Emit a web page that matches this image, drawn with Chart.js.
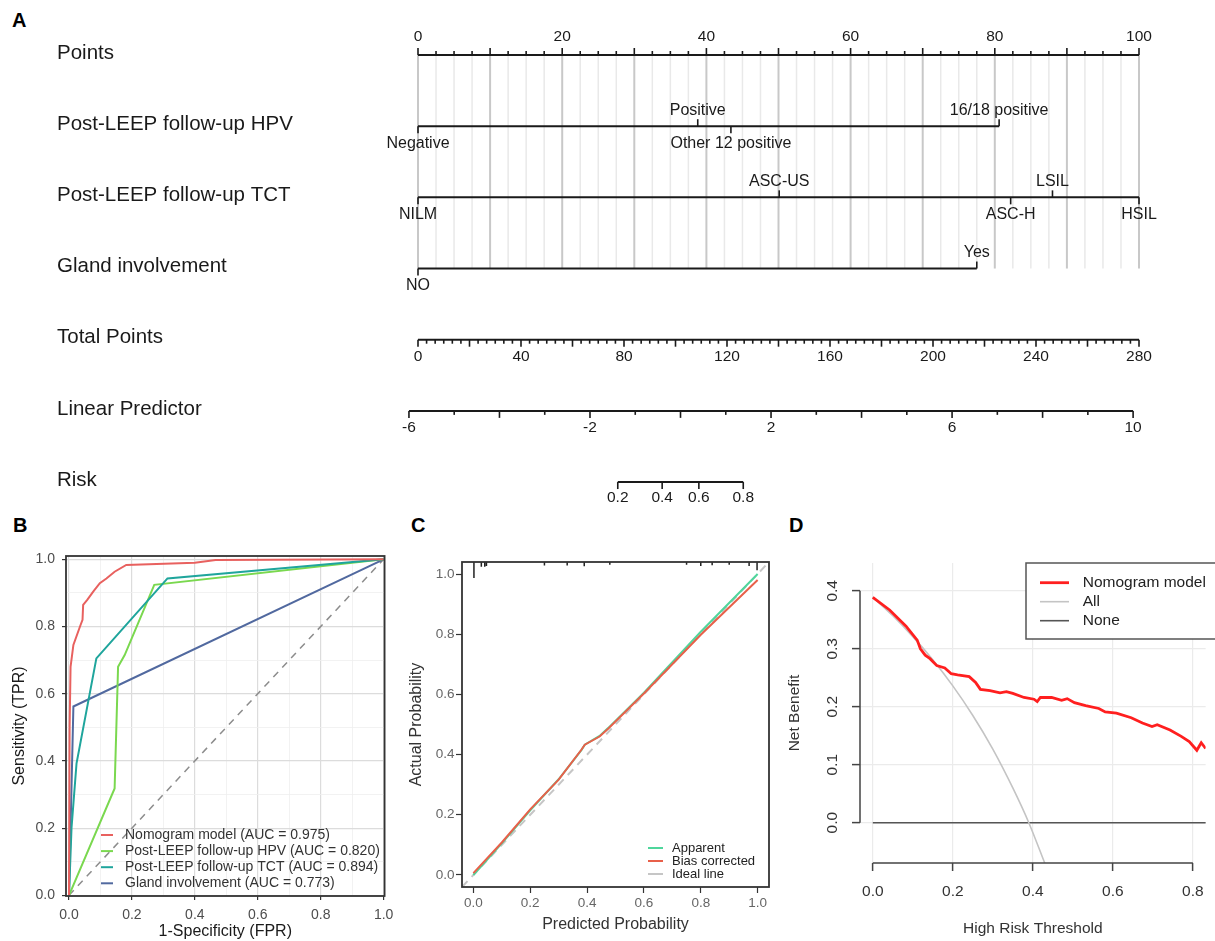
<!DOCTYPE html>
<html>
<head>
<meta charset="utf-8">
<title>Nomogram, ROC, calibration and decision curve</title>
<script src="https://cdn.jsdelivr.net/npm/chart.js@4.4.1/dist/chart.umd.min.js"></script>
<style>
  html, body { margin: 0; padding: 0; background: #fff; width: 1215px; height: 941px; overflow: hidden; position: relative; }
  canvas { position: absolute; }
  .tag { position: absolute; font: bold 20px "Liberation Sans", Arial, sans-serif; line-height: 20px; color: #000; }
</style>
</head>
<body>
<div class="tag" style="left:12px;top:10px">A</div>
<div class="tag" style="left:13px;top:515px">B</div>
<div class="tag" style="left:411px;top:515px">C</div>
<div class="tag" style="left:789px;top:515px">D</div>
<canvas id="nomogram" width="1215" height="515" style="left:0;top:0"></canvas>
<canvas id="roc" width="400" height="421" style="left:0;top:520px"></canvas>
<canvas id="calib" width="390" height="421" style="left:400px;top:520px"></canvas>
<canvas id="dca" width="445" height="421" style="left:770px;top:520px"></canvas>
<script>
const FONT = '"Liberation Sans", Arial, sans-serif';
Chart.defaults.font.family = FONT;
Chart.defaults.color = '#222';
Chart.defaults.animation = false;
Chart.defaults.responsive = false;

// ---- A: nomogram ----
const rowNames = ['Points', 'Post-LEEP follow-up HPV', 'Post-LEEP follow-up TCT', 'Gland involvement', 'Total Points', 'Linear Predictor', 'Risk'];
const pointsLabels = [0, 20, 40, 60, 80, 100];
const hpvLevels = ['Negative', 'Positive', 'Other 12 positive', '16/18 positive'];
const hpvPoints = [0, 38.8, 43.4, 80.6];
const tctLevels = ['NILM', 'ASC-US', 'ASC-H', 'LSIL', 'HSIL'];
const tctPoints = [0, 50.1, 82.2, 88.0, 100];
const glandLevels = ['NO', 'Yes'];
const glandPoints = [0, 77.5];
const totalLabels = [0, 40, 80, 120, 160, 200, 240, 280];
const lpLabels = [-6, -2, 2, 6, 10];
const lpAtTotal = [-5.8, 10.13]; // linear predictor at 0 and 280 total points
const riskLabels = [0.2, 0.4, 0.6, 0.8];
// side of the line where each level name goes (1 below, -1 above)
const hpvSide = [1, -1, 1, -1];
const tctSide = [1, -1, 1, -1, 1];
const glandSide = [1, -1];

// ---- B: ROC ----
const rocLabels = ['Nomogram model (AUC = 0.975)', 'Post-LEEP follow-up HPV (AUC = 0.820)', 'Post-LEEP follow-up TCT (AUC = 0.894)', 'Gland involvement (AUC = 0.773)'];
const nomoFpr = [0, 0.002, 0.005, 0.014, 0.035, 0.043, 0.045, 0.058, 0.077, 0.098, 0.119, 0.145, 0.182, 0.40, 0.466, 1];
const nomoTpr = [0, 0.50, 0.68, 0.745, 0.80, 0.82, 0.864, 0.879, 0.904, 0.929, 0.943, 0.963, 0.983, 0.99, 0.998, 1];
const hpvFpr = [0, 0.145, 0.156, 0.177, 0.271, 1];
const hpvTpr = [0, 0.318, 0.68, 0.715, 0.924, 1];
const tctFpr = [0, 0.008, 0.024, 0.087, 0.313, 1];
const tctTpr = [0, 0.20, 0.393, 0.705, 0.943, 1];
const glandFpr = [0, 0.014, 1];
const glandTpr = [0, 0.562, 1];
const diagX = [0, 1];
const diagY = [0, 1];
const rocTicks = [0, 0.1, 0.2, 0.3, 0.4, 0.5, 0.6, 0.7, 0.8, 0.9, 1.0];

// ---- C: calibration ----
const calLabels = ['Apparent', 'Bias corrected', 'Ideal line'];
const calPred = [0, 0.1, 0.2, 0.3, 0.38, 0.392, 0.444, 0.474, 0.6, 0.8, 1.0];
const apparentObs = [0, 0.105, 0.215, 0.318, 0.415, 0.433, 0.462, 0.488, 0.606, 0.808, 1.0];
const biasObs = [0.006, 0.108, 0.218, 0.317, 0.416, 0.433, 0.46, 0.486, 0.603, 0.798, 0.98];
const idealX = [-0.04, 1.04];
const idealY = [-0.04, 1.04];
const rugX = [0.002, 0.028, 0.04, 0.046, 0.25, 0.33, 0.39, 0.48, 0.75, 0.80, 0.84, 0.90, 0.97, 0.998];
const rugH = [0.053, 0.016, 0.016, 0.013, 0.012, 0.012, 0.014, 0.009, 0.009, 0.013, 0.011, 0.009, 0.013, 0.027];
const calTicks = [0, 0.2, 0.4, 0.6, 0.8, 1.0];

// ---- D: decision curve ----
const dcaLabels = ['Nomogram model', 'All', 'None'];
const dcaX = [0, 0.042, 0.083, 0.111, 0.119, 0.131, 0.143, 0.16, 0.18, 0.196, 0.212, 0.241, 0.257, 0.269, 0.293, 0.318, 0.334, 0.35, 0.378, 0.403, 0.411, 0.419, 0.447, 0.472, 0.486, 0.504, 0.532, 0.565, 0.581, 0.609, 0.646, 0.674, 0.698, 0.711, 0.743, 0.771, 0.791, 0.81, 0.821, 0.832];
const dcaY = [0.3885, 0.367, 0.339, 0.315, 0.30, 0.289, 0.283, 0.271, 0.267, 0.257, 0.255, 0.252, 0.242, 0.230, 0.228, 0.224, 0.226, 0.223, 0.216, 0.213, 0.209, 0.216, 0.216, 0.211, 0.214, 0.207, 0.202, 0.197, 0.191, 0.189, 0.181, 0.172, 0.166, 0.169, 0.160, 0.149, 0.140, 0.125, 0.138, 0.128];
const allX = [0, 0.05, 0.1, 0.15, 0.2, 0.25, 0.3, 0.35, 0.39, 0.43];
const allY = [0.389, 0.357, 0.321, 0.281, 0.236, 0.185, 0.127, 0.060, 0.0, -0.07];
const noneX = [0, 1];
const noneY = [0, 0];
const dcaXTicks = [0, 0.2, 0.4, 0.6, 0.8];
const dcaYTicks = [0, 0.1, 0.2, 0.3, 0.4];

// helpers
const xy = (xs, ys) => xs.map((x, i) => ({x, y: ys[i]}));
const series = (xs, ys, style) => Object.assign({data: xy(xs, ys), showLine: true, pointRadius: 0, borderWidth: 2, fill: false}, style);
const fixTicks = list => scale => { scale.ticks = list.map(value => ({value})); };
const logit = p => Math.log(p / (1 - p));
const isMajor = v => Math.round(v * 10) % 2 === 0;

const makeFrame = (color, width) => ({
  id: 'frame',
  afterDatasetsDraw(chart) {
    const {ctx, chartArea: a} = chart;
    ctx.save();
    ctx.strokeStyle = color;
    ctx.lineWidth = width;
    ctx.strokeRect(a.left, a.top, a.right - a.left, a.bottom - a.top);
    ctx.restore();
  }
});

// legend drawn from the labelled datasets
const makeLegend = o => ({
  id: 'lineLegend',
  afterDraw(chart) {
    const {ctx} = chart;
    ctx.save();
    if (o.box) {
      ctx.fillStyle = '#fff';
      ctx.fillRect(o.box.x, o.box.y, o.box.w, o.box.h);
      ctx.strokeStyle = o.box.color;
      ctx.lineWidth = o.box.width;
      ctx.strokeRect(o.box.x, o.box.y, o.box.w, o.box.h);
    }
    ctx.font = o.font;
    ctx.textAlign = 'left';
    ctx.textBaseline = 'middle';
    chart.data.datasets.filter(d => d.label).forEach((d, i) => {
      const yy = o.y + i * o.rowH;
      ctx.strokeStyle = d.borderColor;
      ctx.lineWidth = d.borderWidth;
      ctx.beginPath();
      ctx.moveTo(o.x, yy);
      ctx.lineTo(o.x + o.lineLen, yy);
      ctx.stroke();
      ctx.fillStyle = o.color;
      ctx.fillText(d.label, o.textX, yy);
    });
    ctx.restore();
  }
});

// ---------- A ----------
const predictorRows = [
  {levels: hpvLevels, pts: hpvPoints, side: hpvSide},
  {levels: tctLevels, pts: tctPoints, side: tctSide},
  {levels: glandLevels, pts: glandPoints, side: glandSide}
];

const nomogramMarks = {
  id: 'nomogramMarks',
  beforeDatasetsDraw(chart) {
    const {ctx} = chart;
    const {pts, y} = chart.scales;
    const y0 = y.getPixelForValue(0), y1 = y.getPixelForValue(3);
    ctx.save();
    for (let i = 0; i <= 40; i++) {
      const x = pts.getPixelForValue(i * 2.5);
      ctx.strokeStyle = i % 4 === 0 ? '#c8c8c8' : '#e9e9e9';
      ctx.lineWidth = i % 4 === 0 ? 2 : 1.5;
      ctx.beginPath();
      ctx.moveTo(x, y0);
      ctx.lineTo(x, y1);
      ctx.stroke();
    }
    ctx.restore();
  },
  afterDatasetsDraw(chart) {
    const {ctx} = chart;
    const {pts, tot, lp, y} = chart.scales;
    ctx.save();
    ctx.strokeStyle = '#1a1a1a';
    ctx.lineWidth = 1.6;
    ctx.fillStyle = '#1a1a1a';
    ctx.textAlign = 'center';
    ctx.textBaseline = 'middle';
    const tick = (x, row, len) => {
      const yy = y.getPixelForValue(row);
      ctx.beginPath();
      ctx.moveTo(x, yy);
      ctx.lineTo(x, yy + len);
      ctx.stroke();
    };
    const label = (txt, x, row, dy) => ctx.fillText(txt, x, y.getPixelForValue(row) + dy);

    ctx.font = '15.5px ' + FONT;
    // points scale
    for (let i = 0; i <= 40; i++) tick(pts.getPixelForValue(i * 2.5), 0, i % 4 === 0 ? -7 : -4);
    pointsLabels.forEach(v => label(String(v), pts.getPixelForValue(v), 0, -18));
    // total points
    for (let i = 0; i <= 84; i++) tick(tot.getPixelForValue(i * 20 / 6), 4, i % 6 === 0 ? 7 : 4);
    totalLabels.forEach(v => label(String(v), tot.getPixelForValue(v), 4, 17));
    // linear predictor
    for (let v = -6; v <= 10; v++) tick(lp.getPixelForValue(v), 5, v % 2 === 0 ? 7 : 4);
    lpLabels.forEach(v => label(String(v), lp.getPixelForValue(v), 5, 17));
    // risk
    riskLabels.forEach(r => {
      const x = lp.getPixelForValue(logit(r));
      tick(x, 6, 7);
      label(String(r), x, 6, 16);
    });

    ctx.font = '16px ' + FONT;
    predictorRows.forEach((r, k) => r.pts.forEach((p, i) => {
      const x = pts.getPixelForValue(p);
      tick(x, k + 1, 7 * r.side[i]);
      label(r.levels[i], x, k + 1, r.side[i] > 0 ? 17 : -16);
    }));

    ctx.textAlign = 'left';
    ctx.font = '20.5px ' + FONT;
    rowNames.forEach((n, k) => ctx.fillText(n, 57, y.getPixelForValue(k) - 2));
    ctx.restore();
  }
};

const seg = (x0, x1, row) => [{x: x0, y: row}, {x: x1, y: row}];
const axisLine = (data, xAxisID) => ({data, xAxisID, showLine: true, pointRadius: 0, borderColor: '#1a1a1a', borderWidth: 2, clip: false});

new Chart(document.getElementById('nomogram'), {
  type: 'scatter',
  data: {
    datasets: [
      axisLine(seg(0, 100, 0), 'pts'),
      axisLine(seg(Math.min(...hpvPoints), Math.max(...hpvPoints), 1), 'pts'),
      axisLine(seg(Math.min(...tctPoints), Math.max(...tctPoints), 2), 'pts'),
      axisLine(seg(Math.min(...glandPoints), Math.max(...glandPoints), 3), 'pts'),
      axisLine(seg(totalLabels[0], totalLabels[totalLabels.length - 1], 4), 'tot'),
      axisLine(seg(lpLabels[0], lpLabels[lpLabels.length - 1], 5), 'lp'),
      axisLine(seg(logit(riskLabels[0]), logit(riskLabels[riskLabels.length - 1]), 6), 'lp')
    ]
  },
  options: {
    events: [],
    layout: {padding: {left: 418, right: 76, top: 0, bottom: 0}},
    plugins: {legend: {display: false}, tooltip: {enabled: false}},
    scales: {
      pts: {type: 'linear', axis: 'x', min: 0, max: 100, display: false},
      tot: {type: 'linear', axis: 'x', min: 0, max: 280, display: false},
      lp: {type: 'linear', axis: 'x', min: lpAtTotal[0], max: lpAtTotal[1], display: false},
      y: {type: 'linear', min: -0.773, max: 6.463, reverse: true, display: false}
    }
  },
  plugins: [nomogramMarks]
});

// ---------- B ----------
new Chart(document.getElementById('roc'), {
  type: 'scatter',
  data: {
    datasets: [
      series(nomoFpr, nomoTpr, {label: rocLabels[0], borderColor: '#e8615f', order: 0}),
      series(hpvFpr, hpvTpr, {label: rocLabels[1], borderColor: '#7ad84f', order: 2}),
      series(tctFpr, tctTpr, {label: rocLabels[2], borderColor: '#1fa59c', order: 1}),
      series(glandFpr, glandTpr, {label: rocLabels[3], borderColor: '#51699f', order: 3}),
      series(diagX, diagY, {borderColor: '#8c8c8c', borderDash: [7, 6], borderWidth: 1.5, order: 4})
    ]
  },
  options: {
    events: [],
    layout: {padding: {left: 0, right: 13, top: 36, bottom: 0}},
    plugins: {legend: {display: false}, tooltip: {enabled: false}},
    scales: {
      x: {
        min: -0.0095, max: 1.003,
        afterBuildTicks: fixTicks(rocTicks),
        afterFit: s => { s.height = 45; },
        border: {display: false},
        grid: {
          color: c => c.tick && isMajor(c.tick.value) ? '#dcdcdc' : '#efefef',
          lineWidth: c => c.tick && isMajor(c.tick.value) ? 1.2 : 0.8,
          tickColor: c => c.tick && isMajor(c.tick.value) ? '#333' : 'transparent',
          tickLength: 4, tickWidth: 1.2
        },
        ticks: {color: '#4d4d4d', font: {size: 14}, padding: 6.6, maxRotation: 0, autoSkip: false,
          callback: v => isMajor(v) ? v.toFixed(1) : ''},
        title: {display: true, text: '1-Specificity (FPR)', color: '#1a1a1a', font: {size: 16}, padding: {top: 0, bottom: 0}}
      },
      y: {
        min: -0.002, max: 1.0098,
        afterBuildTicks: fixTicks(rocTicks),
        afterFit: s => { s.width = 66; },
        border: {display: false},
        grid: {
          color: c => c.tick && isMajor(c.tick.value) ? '#dcdcdc' : '#efefef',
          lineWidth: c => c.tick && isMajor(c.tick.value) ? 1.2 : 0.8,
          tickColor: c => c.tick && isMajor(c.tick.value) ? '#333' : 'transparent',
          tickLength: 4, tickWidth: 1.2
        },
        ticks: {color: '#4d4d4d', font: {size: 14}, padding: 7, autoSkip: false,
          callback: v => isMajor(v) ? v.toFixed(1) : ''},
        title: {display: true, text: 'Sensitivity (TPR)', color: '#1a1a1a', font: {size: 16}, padding: {top: 10.4, bottom: 0}}
      }
    }
  },
  plugins: [makeFrame('#333', 1.8), makeLegend({x: 101, y: 315, rowH: 16.1, lineLen: 12, textX: 125, font: '14px ' + FONT, color: '#333'})]
});

// ---------- C ----------
const calTop = 1.04;
const rugData = rugX.flatMap((x, i) => [{x, y: calTop}, {x, y: calTop - rugH[i]}, {x, y: null}]);

const rAxisC = {
  afterBuildTicks: fixTicks(calTicks),
  border: {display: false},
  grid: {drawOnChartArea: false, tickLength: 6, tickColor: '#333', tickWidth: 1.2},
  ticks: {color: '#666', font: {size: 13.5}, autoSkip: false, maxRotation: 0, callback: v => v.toFixed(1)}
};

new Chart(document.getElementById('calib'), {
  type: 'scatter',
  data: {
    datasets: [
      series(calPred, apparentObs, {label: calLabels[0], borderColor: '#4fd69c', order: 1}),
      series(calPred, biasObs, {label: calLabels[1], borderColor: '#e8604a', order: 0}),
      series(idealX, idealY, {label: calLabels[2], borderColor: '#c6c6c6', borderDash: [8, 6], order: 2}),
      {data: rugData, showLine: true, pointRadius: 0, borderColor: '#222', borderWidth: 1.5, spanGaps: false, order: 3}
    ]
  },
  options: {
    events: [],
    layout: {padding: {left: 0, right: 21, top: 42, bottom: 0}},
    plugins: {legend: {display: false}, tooltip: {enabled: false}},
    scales: {
      x: Object.assign({}, rAxisC, {
        min: -0.04, max: 1.04,
        afterFit: s => { s.height = 54; },
        ticks: Object.assign({}, rAxisC.ticks, {padding: 2}),
        title: {display: true, text: 'Predicted Probability', color: '#333', font: {size: 16}, padding: {top: 0, bottom: 6.4}}
      }),
      y: Object.assign({}, rAxisC, {
        min: -0.04, max: 1.04,
        afterFit: s => { s.width = 62; },
        ticks: Object.assign({}, rAxisC.ticks, {padding: 1.5}),
        title: {display: true, text: 'Actual Probability', color: '#333', font: {size: 16}, padding: {top: 7.4, bottom: 0}}
      })
    }
  },
  plugins: [makeFrame('#333', 1.8), makeLegend({x: 248, y: 328, rowH: 13, lineLen: 15, textX: 272, font: '13px ' + FONT, color: '#222'})]
});

// ---------- D ----------
const rAxes = {
  id: 'rAxes',
  afterDraw(chart) {
    const {ctx, chartArea: a, scales: {x, y}} = chart;
    const xt = x.ticks, yt = y.ticks;
    ctx.save();
    ctx.strokeStyle = '#444';
    ctx.lineWidth = 1.5;
    ctx.beginPath();
    ctx.moveTo(x.getPixelForValue(xt[0].value), a.bottom);
    ctx.lineTo(x.getPixelForValue(xt[xt.length - 1].value), a.bottom);
    ctx.moveTo(a.left, y.getPixelForValue(yt[0].value));
    ctx.lineTo(a.left, y.getPixelForValue(yt[yt.length - 1].value));
    ctx.stroke();
    ctx.restore();
  }
};

const gridD = {color: '#ebebeb', lineWidth: 1.2, tickLength: 8, tickColor: '#444', tickWidth: 1.5};

new Chart(document.getElementById('dca'), {
  type: 'scatter',
  data: {
    datasets: [
      series(dcaX, dcaY, {label: dcaLabels[0], borderColor: '#ff1f1f', borderWidth: 2.8, order: 0}),
      series(allX, allY, {label: dcaLabels[1], borderColor: '#c4c4c4', borderWidth: 1.6, cubicInterpolationMode: 'monotone', order: 1}),
      series(noneX, noneY, {label: dcaLabels[2], borderColor: '#555', borderWidth: 1.6, order: 2})
    ]
  },
  options: {
    events: [],
    layout: {padding: {left: 0, right: 0, top: 43, bottom: 0}},
    plugins: {legend: {display: false}, tooltip: {enabled: false}},
    scales: {
      x: {
        min: -0.032, max: 0.832,
        afterBuildTicks: fixTicks(dcaXTicks),
        afterFit: s => { s.height = 78; },
        border: {display: false},
        grid: gridD,
        ticks: {color: '#333', font: {size: 15.5}, padding: 11.4, maxRotation: 0, autoSkip: false, callback: v => v.toFixed(1)},
        title: {display: true, text: 'High Risk Threshold', color: '#333', font: {size: 15.5}, padding: {top: 0, bottom: 2.7}}
      },
      y: {
        min: -0.0695, max: 0.448,
        afterBuildTicks: fixTicks(dcaYTicks),
        afterFit: s => { s.width = 90; },
        border: {display: false},
        grid: gridD,
        ticks: {color: '#333', font: {size: 15.5}, padding: 9, minRotation: 90, maxRotation: 90, crossAlign: 'center', autoSkip: false, callback: v => v.toFixed(1)},
        title: {display: true, text: 'Net Benefit', color: '#333', font: {size: 15.5}, padding: {top: 15.7, bottom: 0}}
      }
    }
  },
  plugins: [rAxes, makeLegend({x: 270, y: 62.7, rowH: 19, lineLen: 29, textX: 312.7, font: '15.5px ' + FONT, color: '#222',
    box: {x: 256, y: 43, w: 240, h: 76, color: '#555', width: 1.5}})]
});
</script>
</body>
</html>
